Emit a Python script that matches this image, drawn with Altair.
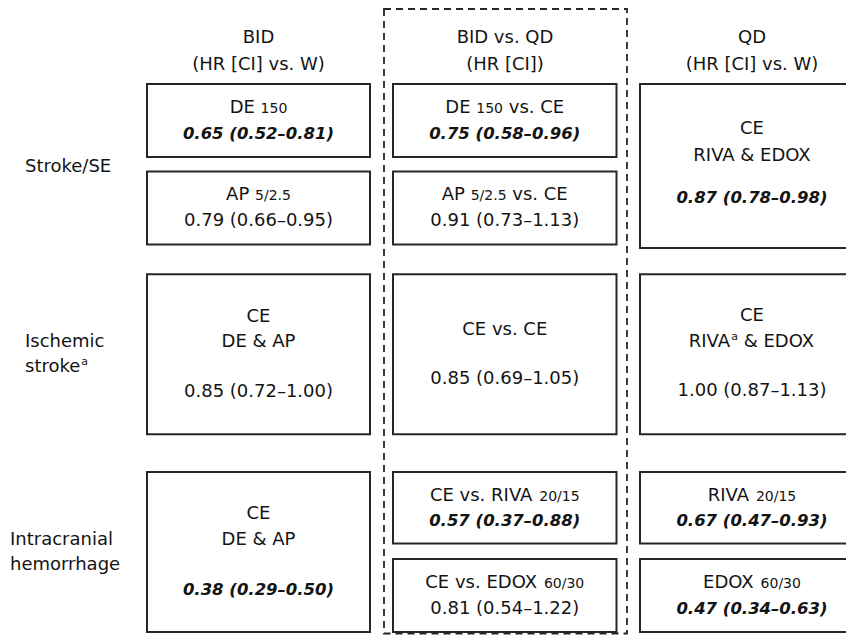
import re
import altair as alt
import pandas as pd

# ------------------------------------------------------------------ content
col_titles = ["BID", "BID vs. QD", "QD"]
col_subtitles = ["(HR [CI] vs. W)", "(HR [CI])", "(HR [CI] vs. W)"]
row_labels = [["Stroke/SE"], ["Ischemic", "stroke^a^"], ["Intracranial", "hemorrhage"]]

# ~x~ = smaller dose text, ^x^ = superscript
cell_labels = [
    "DE ~150~",
    "AP ~5/2.5~",
    "DE ~150~ vs. CE",
    "AP ~5/2.5~ vs. CE",
    "CE\nRIVA & EDOX",
    "CE\nDE & AP",
    "CE vs. CE",
    "CE\nRIVA^a^ & EDOX",
    "CE\nDE & AP",
    "CE vs. RIVA ~20/15~",
    "CE vs. EDOX ~60/30~",
    "RIVA ~20/15~",
    "EDOX ~60/30~",
]
cell_hr = [
    "0.65 (0.52–0.81)",
    "0.79 (0.66–0.95)",
    "0.75 (0.58–0.96)",
    "0.91 (0.73–1.13)",
    "0.87 (0.78–0.98)",
    "0.85 (0.72–1.00)",
    "0.85 (0.69–1.05)",
    "1.00 (0.87–1.13)",
    "0.38 (0.29–0.50)",
    "0.57 (0.37–0.88)",
    "0.81 (0.54–1.22)",
    "0.67 (0.47–0.93)",
    "0.47 (0.34–0.63)",
]
cell_significant = [True, False, True, False, True, False, False, False,
                    True, True, False, True, True]

# ------------------------------------------------------------------ layout (page pixels)
col_centers = [258.5, 505, 752]
header_baselines = [43, 69.5]
row_label_pos = [(25, [171.7]), (25, [346.7, 371.7]), (10, [545, 570])]
cell_boxes = [
    (147, 84, 370, 157), (147, 171.5, 370, 244.5),
    (393, 84, 616.5, 157), (393, 171.5, 616.5, 244.5),
    (640, 84, 864, 248),
    (147, 274.3, 370, 434.3), (393, 274.3, 616.5, 434.3), (640, 274.3, 864, 434.3),
    (147, 472, 370, 632),
    (393, 472, 616.5, 543.5), (393, 559, 616.5, 632),
    (640, 472, 864, 543.5), (640, 559, 864, 632),
]
cell_baselines = [
    [112.5, 138.5], [200, 225.5],
    [112.5, 138.5], [200, 225.5],
    [134.3, 161, 203.3],
    [321.7, 347.3, 397], [335, 384.3], [321.3, 347, 396],
    [519.3, 545, 595],
    [500.7, 525.7], [588.3, 614],
    [500.7, 525.7], [588.3, 614],
]
frame = (384, 9, 627, 633.5)

FONT = "DejaVu Sans"
TEXT_COLOR = "#141414"
LINE_COLOR = "#262626"
SZ = {"n": 18, "b": 16.5, "s": 14, "p": 11}
DY = {"n": 0, "b": 0, "s": 0, "p": -7}

REG = {" ": .318, "&": .780, "(": .390, ")": .390, ".": .318, "/": .337,
       "[": .390, "]": .390, "–": .500,
       "A": .684, "B": .686, "C": .698, "D": .770, "E": .632, "H": .752, "I": .295,
       "O": .787, "P": .603, "Q": .787, "R": .695, "S": .635, "V": .684, "W": .989,
       "X": .686, "a": .613, "c": .550, "e": .615, "g": .635, "h": .634, "i": .278,
       "k": .579, "l": .278, "m": .974, "n": .634, "o": .612, "r": .411, "s": .521,
       "t": .392, "v": .592}
for d in "0123456789":
    REG[d] = .636
BOLD = {" ": .348, ".": .380, "(": .457, ")": .457, "–": .500}
for d in "0123456789":
    BOLD[d] = .696


def width(s, kind):
    tbl = BOLD if kind == "b" else REG
    return sum(tbl.get(c, 0.6) for c in s) * SZ[kind]


def parse(line, base):
    parts = re.split(r"(~[^~]*~|\^[^\^]*\^)", line)
    segs = []
    for p in parts:
        if not p:
            continue
        if p.startswith("~"):
            segs.append((p[1:-1], "s"))
        elif p.startswith("^"):
            segs.append((p[1:-1], "p"))
        else:
            segs.append((p, base))
    return segs


def line_rows(line, base, x0, y, anchor="center"):
    segs = parse(line, base)
    style = "b" if base == "b" else "n"
    if len(segs) == 1:
        return [dict(x=x0, y=y, text=segs[0][0].strip(), size=SZ[base], style=style,
                     align=anchor)]
    total = sum(width(t, k) for t, k in segs)
    x = x0 - total / 2 if anchor == "center" else x0
    rows = []
    for t, k in segs:
        lead = len(t) - len(t.lstrip(" "))
        rows.append(dict(x=x + width(" " * lead, k), y=y + DY[k], text=t.strip(" "),
                         size=SZ[k], style="b" if k == "b" else "n", align="left"))
        x += width(t, k)
    return rows


text_rows = []
for cx, t, s in zip(col_centers, col_titles, col_subtitles):
    text_rows += line_rows(t, "n", cx, header_baselines[0])
    text_rows += line_rows(s, "n", cx, header_baselines[1])
for (lx, ys), lines in zip(row_label_pos, row_labels):
    for yb, ln in zip(ys, lines):
        text_rows += line_rows(ln, "n", lx, yb, anchor="left")
for box, bl, lab, hr, sig in zip(cell_boxes, cell_baselines, cell_labels, cell_hr,
                                 cell_significant):
    cx = (box[0] + box[2]) / 2
    lines = lab.split("\n")
    for yb, ln in zip(bl[:-1], lines):
        text_rows += line_rows(ln, "n", cx, yb)
    text_rows += line_rows(hr, "b" if sig else "n", cx, bl[-1])

text_df = pd.DataFrame(text_rows)
box_df = pd.DataFrame(cell_boxes, columns=["x", "y", "x2", "y2"])
frame_df = pd.DataFrame([frame], columns=["x", "y", "x2", "y2"])

xs = alt.Scale(domain=[8, 846])
ys = alt.Scale(domain=[8, 635], reverse=True)

frame_layer = alt.Chart(frame_df).mark_rect(
    fill="transparent", stroke=LINE_COLOR, strokeWidth=1.8, strokeDash=[7, 5]
).encode(x=alt.X("x:Q", scale=xs, axis=None), x2="x2:Q",
         y=alt.Y("y:Q", scale=ys, axis=None), y2="y2:Q")

box_layer = alt.Chart(box_df).mark_rect(
    fill="white", stroke=LINE_COLOR, strokeWidth=2, clip=True
).encode(x=alt.X("x:Q", scale=xs, axis=None), x2="x2:Q",
         y=alt.Y("y:Q", scale=ys, axis=None), y2="y2:Q")

layers = [frame_layer, box_layer]
for style in ["n", "b"]:
    for align in ["center", "left"]:
        sub = text_df[(text_df["style"] == style) & (text_df["align"] == align)]
        if sub.empty:
            continue
        kw = dict(align=align, baseline="alphabetic", font=FONT, color=TEXT_COLOR)
        if style == "b":
            kw.update(fontWeight="bold", fontStyle="italic")
        layers.append(
            alt.Chart(sub).mark_text(**kw).encode(
                x=alt.X("x:Q", scale=xs, axis=None),
                y=alt.Y("y:Q", scale=ys, axis=None),
                text="text:N",
                size=alt.Size("size:Q", scale=None),
            )
        )

chart = alt.layer(*layers).properties(
    width=838, height=627, padding=0,
    autosize=alt.AutoSizeParams(type="none"),
).configure_view(stroke="transparent")

chart.save("out.html", embed_options={"renderer": "svg", "actions": False})
